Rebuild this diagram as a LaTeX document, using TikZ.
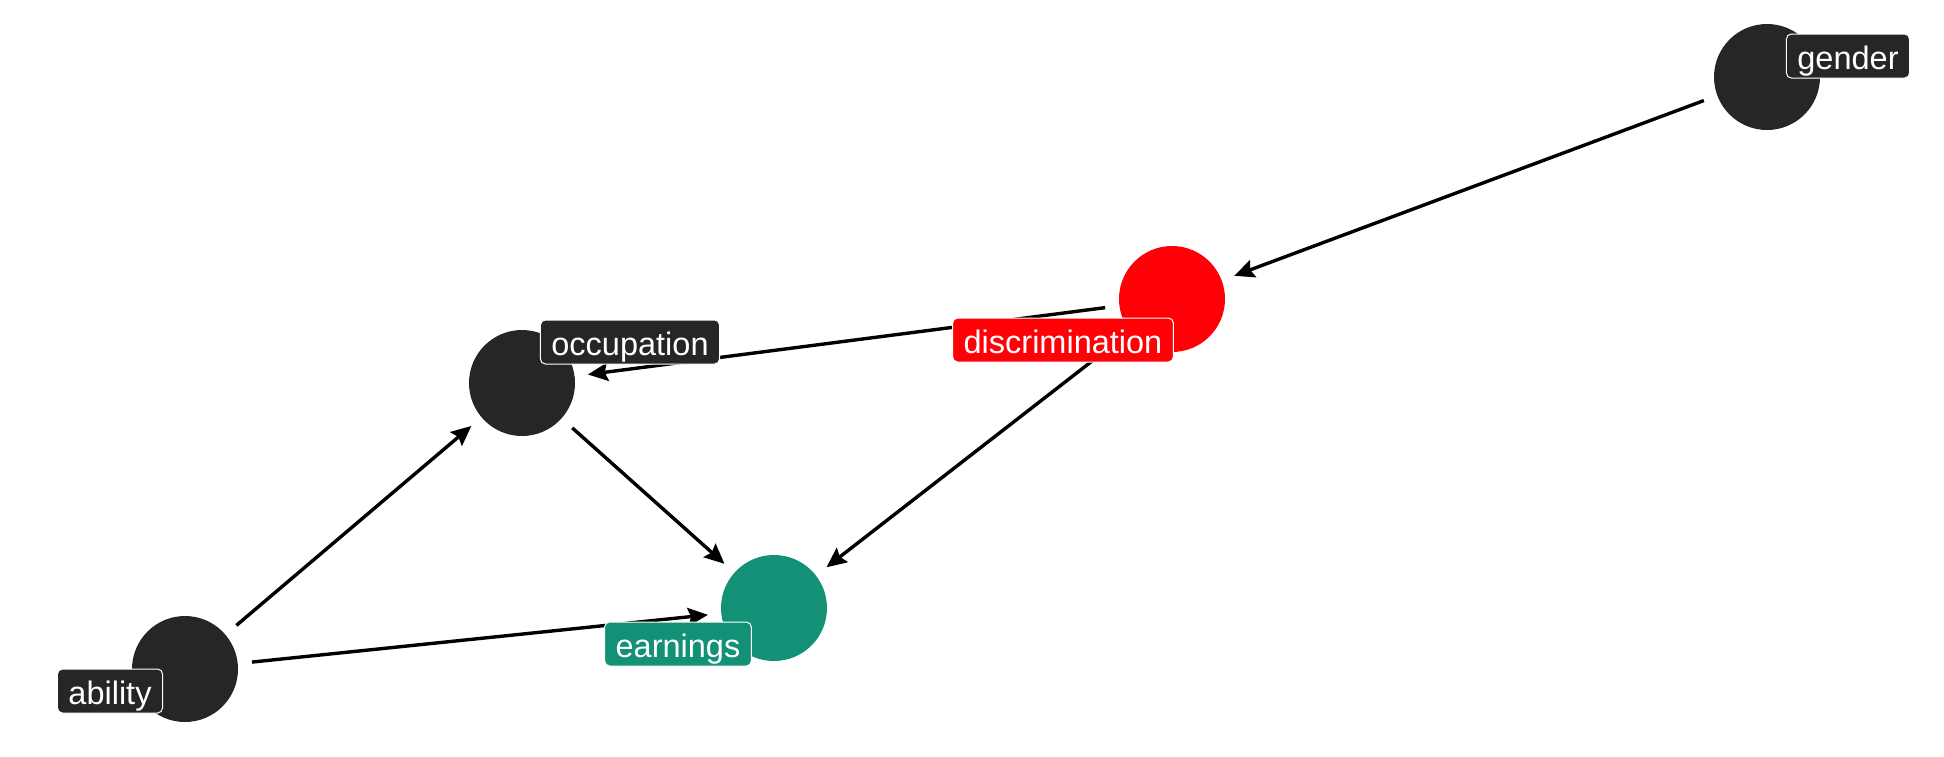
\documentclass[tikz,border=0pt]{standalone}
\usepackage{fontspec}
\setmainfont{Liberation Sans}
\usetikzlibrary{arrows.meta, calc, positioning}
\definecolor{nodedark}{RGB}{38,38,38}
\definecolor{treatred}{RGB}{254,0,6}
\definecolor{outcometeal}{RGB}{19,145,118}

\begin{document}
\begin{tikzpicture}[x=0.5pt, y=-0.5pt, >={Stealth[length=10pt, width=9pt, inset=1.5pt]},
    dagnode/.style={circle, minimum size=53pt, inner sep=0pt, fill=#1},
    daglabel/.style={rounded corners=2.5pt, draw=white, line width=0.5pt, fill=#1,
        text=white, font=\fontsize{16.25pt}{18pt}\selectfont,
        inner xsep=5.5pt, inner ysep=2.5pt, text height=15pt, text depth=2pt},
    dagedge/.style={line width=1.7pt, ->, shorten >=6.5pt, shorten <=7pt}]
    \useasboundingbox (0,0) rectangle (1944,756);

    % Variables
    \node[dagnode=nodedark] (gender) at (1767,77) {};
    \node[dagnode=treatred] (discrimination) at (1172,299) {};
    \node[dagnode=nodedark] (occupation) at (522,383) {};
    \node[dagnode=outcometeal] (earnings) at (774,608) {};
    \node[dagnode=nodedark] (ability) at (185,669) {};

    % Paths
    \draw[dagedge] (gender) -- (discrimination);
    \draw[dagedge] (discrimination) -- (occupation);
    \draw[dagedge] (discrimination) -- (earnings);
    \draw[dagedge] (occupation) -- (earnings);
    \draw[dagedge] (ability) -- (occupation);
    \draw[dagedge] (ability) -- (earnings);

    % Labels
    \node[daglabel=nodedark] (genderlab) at ($(gender)+(81,-21)$) {gender};
    \node[daglabel=treatred] (discriminationlab) at ($(discrimination)+(-109,41)$) {discrimination};
    \node[daglabel=nodedark] (occupationlab) at ($(occupation)+(108,-41)$) {occupation};
    \node[daglabel=outcometeal] (earningslab) at ($(earnings)+(-96,36)$) {earnings};
    \node[daglabel=nodedark] (abilitylab) at ($(ability)+(-75,22)$) {ability};
\end{tikzpicture}
\end{document}
